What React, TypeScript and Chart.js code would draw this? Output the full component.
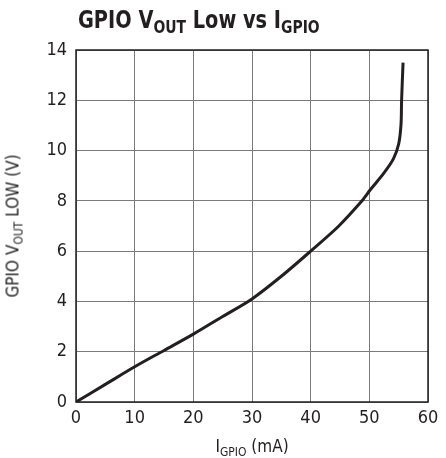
import React, { useEffect, useRef } from "react";
import { Chart, registerables } from "chart.js";

Chart.register(...registerables);

const currentMA = [0, 5, 10, 15, 20, 25, 30, 35, 40, 44.8, 48.75, 50.2, 52.4, 54.1, 55, 55.4, 55.5, 55.75];
const voltageV = [0, 0.7, 1.4, 2.05, 2.7, 3.4, 4.1, 5.0, 6.0, 7.0, 8.0, 8.45, 9.08, 9.67, 10.26, 11.04, 12.0, 13.5];
const xTicks = [0, 10, 20, 30, 40, 50, 60];
const yTicks = [0, 2, 4, 6, 8, 10, 12, 14];

const FONT = '"Liberation Sans Narrow", "Arial Narrow", "DejaVu Sans Condensed", sans-serif';

const framePlugin = {
  id: "frame",
  afterDraw(chart: any) {
    const { ctx, chartArea } = chart;
    ctx.save();
    ctx.strokeStyle = "#231f20";
    ctx.lineWidth = 1.5;
    ctx.strokeRect(chartArea.left, chartArea.top, chartArea.right - chartArea.left, chartArea.bottom - chartArea.top);
    ctx.restore();
  },
};

export default function App() {
  const ref = useRef<HTMLCanvasElement>(null);
  useEffect(() => {
    document.body.style.margin = "0";
    const points = currentMA.map((x, i) => ({ x, y: voltageV[i] }));
    const chart = new Chart(ref.current!, {
      type: "scatter",
      data: {
        datasets: [
          {
            data: points,
            showLine: true,
            borderColor: "#231f20",
            borderWidth: 3,
            pointRadius: 0,
            tension: 0.3,
            fill: false,
          },
        ],
      },
      options: {
        animation: false,
        responsive: false,
        devicePixelRatio: 1,
        layout: { padding: { top: 50, right: 18, left: 0, bottom: 0 } },
        plugins: { legend: { display: false }, tooltip: { enabled: false }, title: { display: false } },
        scales: {
          x: {
            type: "linear",
            min: 0,
            max: 60,
            afterBuildTicks: (axis: any) => {
              axis.ticks = xTicks.map((v) => ({ value: v }));
            },
            afterFit: (axis: any) => {
              axis.height = 56;
            },
            grid: { color: "#7a7a7a", lineWidth: 1, drawTicks: false },
            border: { display: false },
            ticks: { color: "#231f20", padding: 6, font: { family: FONT, size: 18 } },
          },
          y: {
            type: "linear",
            min: 0,
            max: 14,
            afterBuildTicks: (axis: any) => {
              axis.ticks = yTicks.map((v) => ({ value: v }));
            },
            afterFit: (axis: any) => {
              axis.width = 76;
            },
            grid: { color: "#7a7a7a", lineWidth: 1, drawTicks: false },
            border: { display: false },
            ticks: { color: "#231f20", padding: 9, font: { family: FONT, size: 18 } },
          },
        },
      },
      plugins: [framePlugin],
    } as any);
    return () => chart.destroy();
  }, []);

  return (
    <div style={{ position: "relative", width: 446, height: 458, background: "#fff", fontFamily: FONT, color: "#231f20" }}>
      <canvas ref={ref} width={446} height={458} style={{ position: "absolute", left: 0, top: 0 }} />
      <div
        style={{
          position: "absolute",
          left: 78,
          top: 5,
          fontSize: 25,
          fontWeight: "bold",
          whiteSpace: "nowrap",
          lineHeight: "30px",
          transform: "scaleX(0.86)",
          transformOrigin: "left center",
        }}
      >
        GPIO V<sub style={{ fontSize: 18, verticalAlign: "-5px" }}>OUT</sub> Low vs I
        <sub style={{ fontSize: 18, verticalAlign: "-5px" }}>GPIO</sub>
      </div>
      <div
        style={{
          position: "absolute",
          left: 252,
          top: 447,
          transform: "translate(-50%, -50%)",
          fontSize: 17,
          whiteSpace: "nowrap",
        }}
      >
        I<sub style={{ fontSize: 12, verticalAlign: "-4px" }}>GPIO</sub> (mA)
      </div>
      <div
        style={{
          position: "absolute",
          left: 14,
          top: 226,
          transform: "translate(-50%, -50%) rotate(-90deg)",
          fontSize: 17,
          whiteSpace: "nowrap",
        }}
      >
        GPIO V<sub style={{ fontSize: 12, verticalAlign: "-4px" }}>OUT</sub> LOW (V)
      </div>
    </div>
  );
}
